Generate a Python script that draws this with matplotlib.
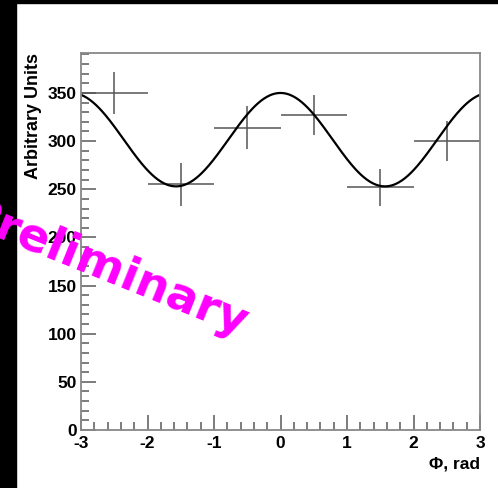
import numpy as np
import matplotlib.pyplot as plt
from matplotlib.patches import Rectangle
from matplotlib.ticker import MultipleLocator

plt.rcParams['axes.unicode_minus'] = False

# measured points: bin centres, counts, errors
phi = [-2.5, -1.5, -0.5, 0.5, 1.5, 2.5]
counts = [350, 255, 314, 327, 252, 300]
count_err = [22, 22, 22, 21, 19, 21]
bin_half = [0.5, 0.5, 0.5, 0.5, 0.5, 0.5]

# fit: p0 + p1*cos(2*phi)
p0 = 301.5
p1 = 48.5

W, H = 498, 488
fig = plt.figure(figsize=(W / 100, H / 100), dpi=100, facecolor='white')

# black frame strips on the left and top
fig.patches.append(Rectangle((0, 0), 16 / W, 1, transform=fig.transFigure,
                             color='black', zorder=-1))
fig.patches.append(Rectangle((0, 1 - 3 / H), 1, 3 / H, transform=fig.transFigure,
                             color='black', zorder=-1))

ax = fig.add_axes([81 / W, 1 - 430 / H, (480 - 81) / W, (430 - 53) / H])

ax.errorbar(phi, counts, xerr=bin_half, yerr=count_err, fmt='none',
            ecolor='#555555', elinewidth=1.1, capsize=0)

xx = np.linspace(-3, 3, 400)
ax.plot(xx, p0 + p1 * np.cos(2 * xx), color='black', lw=1.6)

ax.set_xlim(-3, 3)
ax.set_ylim(0, 391.5)

font = 'Liberation Sans'
ax.xaxis.set_major_locator(MultipleLocator(1))
ax.xaxis.set_minor_locator(MultipleLocator(0.2))
ax.yaxis.set_major_locator(MultipleLocator(50))
ax.yaxis.set_minor_locator(MultipleLocator(10))
ax.tick_params(which='both', direction='in', color='#666666', width=1.2,
               top=False, right=False)
ax.tick_params(which='major', length=11)
ax.tick_params(which='minor', length=5.5)
ax.tick_params(axis='x', pad=4)
ax.tick_params(axis='y', pad=3)
for lab in ax.get_xticklabels() + ax.get_yticklabels():
    lab.set_fontfamily(font)
    lab.set_fontweight('bold')
    lab.set_fontsize(12.5)

for s in ax.spines.values():
    s.set_color('#888888')
    s.set_linewidth(1.3)

ax.set_ylabel('Arbitrary Units', fontfamily=font, fontweight='bold',
              fontsize=13, loc='top', labelpad=4)
ax.set_xlabel('Φ, rad', fontfamily=font, fontweight='bold',
              fontsize=12.5, loc='right', labelpad=4)

fig.text(241 / W, 1 - 338 / H, 'Preliminary', color='#ff00ff',
         fontfamily='DejaVu Sans', fontweight='bold', fontsize=33.5,
         rotation=-22, rotation_mode='anchor', ha='right', va='baseline',
         zorder=10)

fig.savefig('out.png', dpi=100)
